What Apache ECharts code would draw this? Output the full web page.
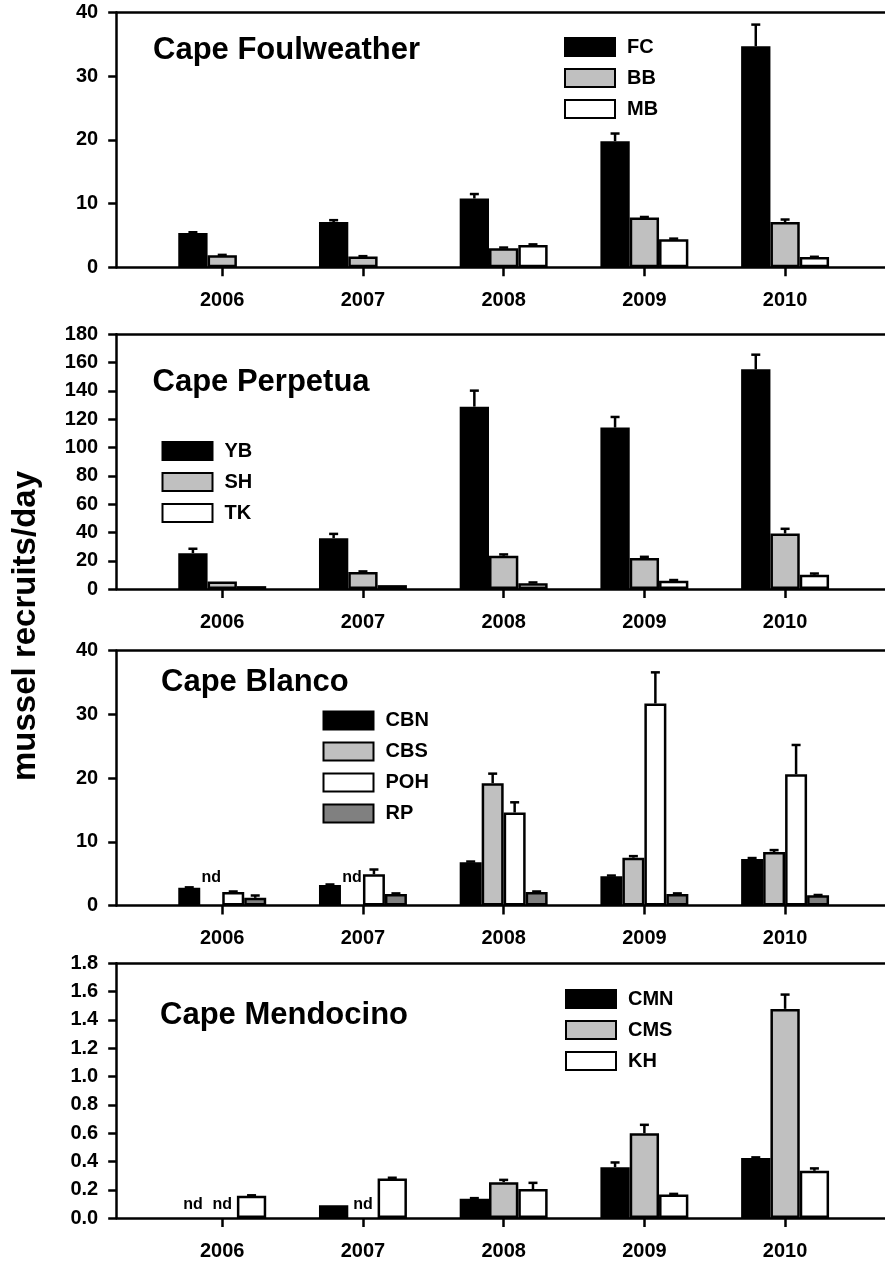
<!DOCTYPE html>
<html><head><meta charset="utf-8">
<script src="https://cdn.jsdelivr.net/npm/echarts@6/dist/echarts.min.js"></script>
<style>html,body{margin:0;padding:0;background:#fff}#c{width:885px;height:1264px}</style>
</head><body><div id="c"></div>
<script>
// ---------- data ----------
const years = [2006, 2007, 2008, 2009, 2010];

// Cape Foulweather
const fwTitle = 'Cape Foulweather';
const fwNames = ['FC', 'BB', 'MB'];
const fcMean = [5.4, 7.1, 10.8, 19.8, 34.7];
const fcErr  = [0.1, 0.3, 0.7, 1.2, 3.4];
const bbMean = [1.9, 1.7, 3.0, 7.8, 7.1];
const bbErr  = [0.05, 0.05, 0.1, 0.1, 0.4];
const mbMean = [null, null, 3.5, 4.4, 1.6];
const mbErr  = [null, null, 0.1, 0.1, 0.05];
const fwTicks = [0, 40, 10];

// Cape Perpetua
const cpTitle = 'Cape Perpetua';
const cpNames = ['YB', 'SH', 'TK'];
const ybMean = [25.4, 36.0, 128.9, 114.1, 155.3];
const ybErr  = [3.1, 3.0, 11.3, 7.5, 10.3];
const shMean = [5.4, 12.0, 23.5, 21.9, 39.3];
const shErr  = [0, 0.5, 1.0, 0.9, 3.3];
const tkMean = [2.1, 2.8, 4.2, 5.9, 10.1];
const tkErr  = [0, 0, 0.5, 0.5, 0.9];
const cpTicks = [0, 180, 20];

// Cape Blanco
const cbTitle = 'Cape Blanco';
const cbNames = ['CBN', 'CBS', 'POH', 'RP'];
const cbnMean = [2.8, 3.2, 6.8, 4.6, 7.3];
const cbnErr  = [0.05, 0.1, 0.1, 0.1, 0.15];
const cbsMean = [null, null, 19.2, 7.5, 8.4];
const cbsErr  = [null, null, 1.5, 0.25, 0.3];
const pohMean = [2.1, 4.9, 14.6, 31.7, 20.6];
const pohErr  = [0.1, 0.75, 1.6, 4.9, 4.6];
const rpMean  = [1.2, 1.8, 2.1, 1.8, 1.6];
const rpErr   = [0.37, 0.1, 0.1, 0.1, 0.05];
const cbND    = [[2006, 'CBS'], [2007, 'CBS']];
const cbTicks = [0, 40, 10];

// Cape Mendocino
const cmTitle = 'Cape Mendocino';
const cmNames = ['CMN', 'CMS', 'KH'];
const cmnMean = [null, 0.09, 0.136, 0.36, 0.424];
const cmnErr  = [null, 0, 0.005, 0.033, 0.005];
const cmsMean = [null, null, 0.254, 0.60, 1.478];
const cmsErr  = [null, null, 0.016, 0.059, 0.101];
const khMean  = [0.158, 0.28, 0.205, 0.167, 0.334];
const khErr   = [0.003, 0.005, 0.044, 0.004, 0.017];
const cmND    = [[2006, 'CMN'], [2006, 'CMS'], [2007, 'CMS']];
const cmTicks = [0, 1.8, 0.2];

const yTitle = 'mussel recruits/day';

// ---------- styling / layout ----------
const FONT = '"Liberation Sans", Arial, Helvetica, sans-serif';
const BLACK = '#000000', LIGHT = '#c0c0c0', WHITE = '#ffffff', DARK = '#808080';
const GAP = 0.375;
const LW = 2.5;
const X_MIN = 2005.25, X_MAX = 2010.71;

const panels = [
  { title: fwTitle, names: fwNames, means: [fcMean, bbMean, mbMean], errs: [fcErr, bbErr, mbErr],
    colors: [BLACK, LIGHT, WHITE], ticks: fwTicks, nd: [], dec: 0,
    top: 12.5, titlePos: [153, 34.7], legendPos: [564, 37], ndOff: 0 },
  { title: cpTitle, names: cpNames, means: [ybMean, shMean, tkMean], errs: [ybErr, shErr, tkErr],
    colors: [BLACK, LIGHT, WHITE], ticks: cpTicks, nd: [], dec: 0,
    top: 334.3, titlePos: [152.5, 367], legendPos: [161.5, 441], ndOff: 0 },
  { title: cbTitle, names: cbNames, means: [cbnMean, cbsMean, pohMean, rpMean], errs: [cbnErr, cbsErr, pohErr, rpErr],
    colors: [BLACK, LIGHT, WHITE, DARK], ticks: cbTicks, nd: cbND, dec: 0,
    top: 650.7, titlePos: [161, 667], legendPos: [322.5, 710.5], ndOff: 28 },
  { title: cmTitle, names: cmNames, means: [cmnMean, cmsMean, khMean], errs: [cmnErr, cmsErr, khErr],
    colors: [BLACK, LIGHT, WHITE], ticks: cmTicks, nd: cmND, dec: 1,
    top: 963.3, titlePos: [160, 1000], legendPos: [565, 989], ndOff: 14 }
];
const PANEL_H = 254.8;

const grids = [], xAxes = [], yAxes = [], series = [], legends = [], titles = [];

function errRender(params, api) {
  const yr = api.value(0), m = api.value(1), e = api.value(2), idx = api.value(3), n = api.value(4);
  const band = api.size([1, 0])[0];
  const bw = band * (1 - GAP) / n;
  const base = api.coord([yr, m]);
  const top = api.coord([yr, m + e]);
  const cx = base[0] + (idx - (n - 1) / 2) * bw;
  return { type: 'group', children: [
    { type: 'line', shape: { x1: cx, y1: base[1], x2: cx, y2: top[1] }, style: { stroke: BLACK, lineWidth: LW } },
    { type: 'line', shape: { x1: cx - 4.5, y1: top[1], x2: cx + 4.5, y2: top[1] }, style: { stroke: BLACK, lineWidth: LW } }
  ]};
}

function makeNdRender(off) {
  return function (params, api) {
    const yr = api.value(0), idx = api.value(1), n = api.value(2);
    const band = api.size([1, 0])[0];
    const bw = band * (1 - GAP) / n;
    const base = api.coord([yr, 0]);
    const cx = base[0] + (idx - (n - 1) / 2) * bw;
    return { type: 'text', x: cx, y: base[1] - off,
      style: { text: 'nd', font: 'bold 16px ' + FONT, fill: BLACK, align: 'center', verticalAlign: 'middle' } };
  };
}

panels.forEach((p, i) => {
  grids.push({ left: 116.7, right: 0, top: p.top, height: PANEL_H, outerBoundsMode: 'none', containLabel: false });
  xAxes.push({
    type: 'value', gridIndex: i, min: X_MIN, max: X_MAX, position: 'bottom',
    splitLine: { show: false },
    axisLine: { show: true, onZero: false, lineStyle: { color: BLACK, width: LW } },
    axisTick: { show: true, customValues: years, length: 9, lineStyle: { color: BLACK, width: LW } },
    axisLabel: { show: true, customValues: years, margin: 23, formatter: v => String(v),
      color: BLACK, fontSize: 20, fontWeight: 'bold', fontFamily: FONT }
  });
  xAxes.push({
    type: 'value', gridIndex: i, min: X_MIN, max: X_MAX, position: 'top',
    splitLine: { show: false },
    axisLine: { show: true, onZero: false, lineStyle: { color: BLACK, width: LW } },
    axisTick: { show: false }, axisLabel: { show: false }
  });
  yAxes.push({
    type: 'value', gridIndex: i, min: p.ticks[0], max: p.ticks[1], interval: p.ticks[2],
    splitLine: { show: false },
    axisLine: { show: true, onZero: false, lineStyle: { color: BLACK, width: LW } },
    axisTick: { show: true, length: 8.5, lineStyle: { color: BLACK, width: LW } },
    axisLabel: { margin: 18.5, color: BLACK, fontSize: 20, fontWeight: 'bold', fontFamily: FONT,
      formatter: v => v.toFixed(p.dec) }
  });
  const n = p.names.length;
  const errData = [];
  p.names.forEach((name, k) => {
    const data = [];
    years.forEach((yr, j) => {
      const m = p.means[k][j];
      if (m !== null) {
        data.push([yr, m]);
        const e = p.errs[k][j];
        if (e) errData.push([yr, m, e, k, n]);
      }
    });
    series.push({
      type: 'bar', name: name, xAxisIndex: 2 * i, yAxisIndex: i, data: data,
      barGap: '0%', barCategoryGap: (GAP * 100) + '%',
      itemStyle: { color: p.colors[k], borderColor: BLACK, borderWidth: LW },
      emphasis: { disabled: true }
    });
  });
  series.push({
    type: 'custom', xAxisIndex: 2 * i, yAxisIndex: i, data: errData, renderItem: errRender,
    z: 5, silent: true
  });
  if (p.nd.length) {
    const ndData = p.nd.map(d => [d[0], p.names.indexOf(d[1]), n]);
    series.push({
      type: 'custom', xAxisIndex: 2 * i, yAxisIndex: i, data: ndData, renderItem: makeNdRender(p.ndOff),
      z: 5, silent: true
    });
  }
  legends.push({
    data: p.names, orient: 'vertical', left: p.legendPos[0], top: p.legendPos[1], padding: 0,
    itemWidth: 50, itemHeight: 18, itemGap: 11, icon: 'rect', selectedMode: false,
    textStyle: { color: BLACK, fontSize: 20, fontWeight: 'bold', fontFamily: FONT, lineHeight: 18, padding: [0, 0, 0, 7] }
  });
  titles.push({
    text: p.title, left: p.titlePos[0], top: p.titlePos[1], padding: 0,
    textStyle: { color: BLACK, fontSize: 31, fontWeight: 'bold', fontFamily: FONT }
  });
});

const chart = echarts.init(document.getElementById('c'), null, { renderer: 'canvas' });
chart.setOption({
  backgroundColor: '#ffffff',
  animation: false,
  title: titles,
  legend: legends,
  grid: grids,
  xAxis: xAxes,
  yAxis: yAxes,
  series: series,
  graphic: [{
    type: 'text', x: 26, y: 626, rotation: Math.PI / 2,
    style: { text: yTitle, font: 'bold 33px ' + FONT, fill: BLACK, align: 'center', verticalAlign: 'middle' }
  }]
});
</script></body></html>
